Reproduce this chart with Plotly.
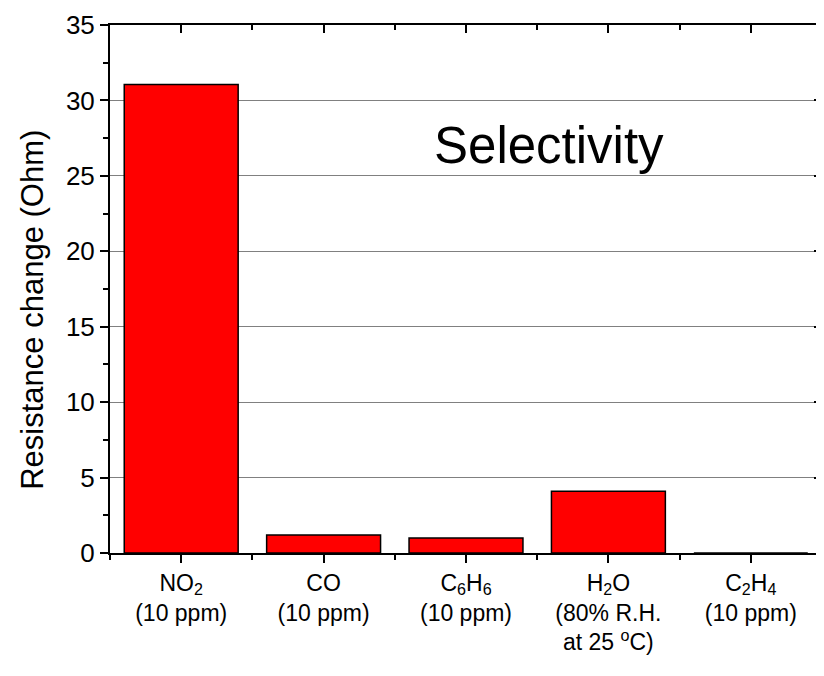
import plotly.graph_objects as go

categories = ["NO<sub>2</sub><br>(10 ppm)", "CO<br>(10 ppm)", "C<sub>6</sub>H<sub>6</sub><br>(10 ppm)",
              "H<sub>2</sub>O<br>(80% R.H.<br>at 25 <sup>o</sup>C)", "C<sub>2</sub>H<sub>4</sub><br>(10 ppm)"]
positions = [1, 2, 3, 4, 5]
values = [31.05, 1.2, 1.0, 4.1, 0.0]
y_ticks = [0, 5, 10, 15, 20, 25, 30, 35]

FONT = "Liberation Sans, Arial, sans-serif"

fig = go.Figure()
fig.add_trace(go.Bar(
    x=positions, y=values, width=0.8,
    marker=dict(color="#ff0000", line=dict(color="black", width=1.5)),
    showlegend=False, hoverinfo="skip",
))
# helper trace so that the mirrored (top/right) axes are drawn
fig.add_trace(go.Scatter(x=[None], y=[None], xaxis="x2", yaxis="y2",
                         showlegend=False, hoverinfo="skip"))

fig.update_layout(
    width=824, height=676,
    margin=dict(l=102, r=10, t=17, b=131),
    paper_bgcolor="white", plot_bgcolor="white",
    font=dict(family=FONT, color="black"),
    xaxis=dict(
        range=[0.5, 5.5], tickmode="array", tickvals=positions, ticktext=categories,
        ticks="outside", ticklen=8, tickwidth=1.5, tickcolor="black",
        tickfont=dict(size=23), automargin=False,
        minor=dict(tickmode="array", tickvals=[0.5, 1.5, 2.5, 3.5, 4.5, 5.5],
                   ticks="outside", ticklen=5, tickwidth=1.5, tickcolor="black"),
        showline=True, linecolor="black", linewidth=2,
        showgrid=False, zeroline=False,
    ),
    yaxis=dict(
        range=[0, 35], tickmode="array", tickvals=y_ticks,
        ticks="outside", ticklen=8, tickwidth=1.5, tickcolor="black",
        tickfont=dict(size=26), automargin=False,
        minor=dict(dtick=2.5, tick0=0, ticks="outside", ticklen=5, tickwidth=1.5,
                   tickcolor="black", showgrid=False),
        showline=True, linecolor="black", linewidth=2,
        showgrid=True, gridcolor="#808080", gridwidth=1,
        zeroline=False,
    ),
    xaxis2=dict(
        overlaying="x", side="top", anchor="y", range=[0.5, 5.5], automargin=False,
        tickmode="array", tickvals=positions, showticklabels=False,
        ticks="inside", ticklen=8, tickwidth=1.5, tickcolor="black",
        minor=dict(tickmode="array", tickvals=[0.5, 1.5, 2.5, 3.5, 4.5, 5.5],
                   ticks="inside", ticklen=5, tickwidth=1.5, tickcolor="black"),
        showline=True, linecolor="black", linewidth=2,
        showgrid=False, zeroline=False,
    ),
    yaxis2=dict(
        overlaying="y", side="right", anchor="x", range=[0, 35], automargin=False,
        tickmode="array", tickvals=y_ticks, showticklabels=False,
        ticks="inside", ticklen=8, tickwidth=1.5, tickcolor="black",
        minor=dict(dtick=2.5, tick0=0, ticks="inside", ticklen=5, tickwidth=1.5,
                   tickcolor="black", showgrid=False),
        showline=True, linecolor="black", linewidth=2,
        showgrid=False, zeroline=False,
    ),
    annotations=[
        dict(text="Resistance change (Ohm)", textangle=-90, xref="paper", yref="paper",
             x=-0.11, y=0.46, xanchor="center", yanchor="middle", showarrow=False,
             font=dict(size=31)),
        dict(text="Selectivity", xref="x", yref="y", x=3.58, y=27.0,
             xanchor="center", yanchor="middle", showarrow=False,
             font=dict(size=51)),
    ],
)

fig.write_html("out.html")
